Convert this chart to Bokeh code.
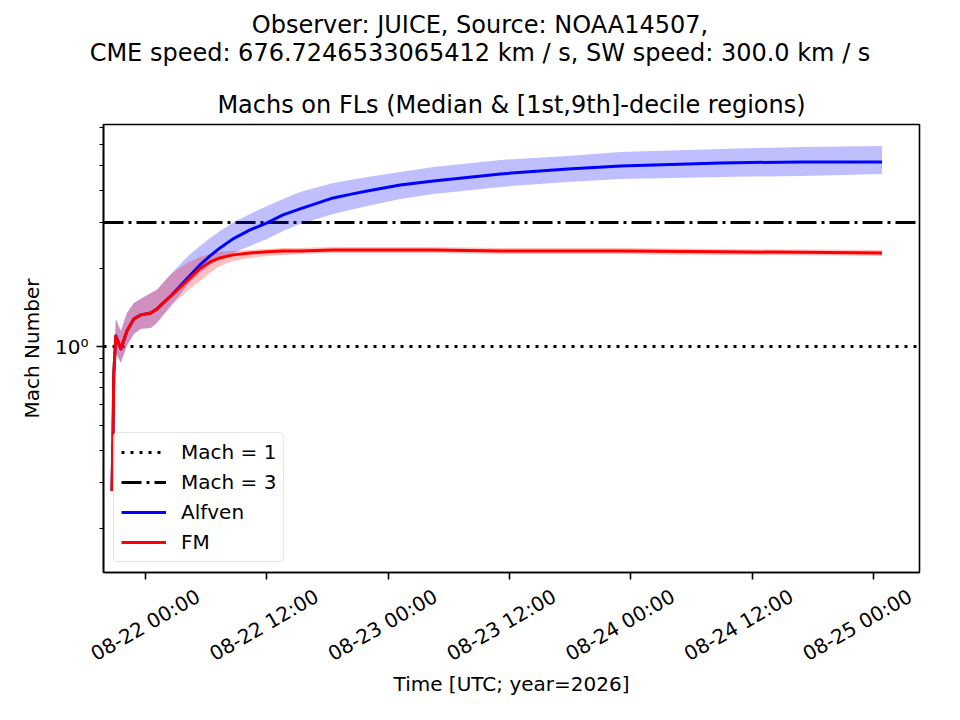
import math

import pandas as pd
from bokeh.plotting import figure
from bokeh.embed import file_html
from bokeh.resources import INLINE
from bokeh.layouts import column
from bokeh.models import (
    ColumnDataSource, FixedTicker, Range1d, DatetimeAxis, Div, AllLabels,
)

FONT = "DejaVu Sans"

# ── Texts ──────────────────────────────────────────────────
suptitle_lines = [
    "Observer: JUICE, Source: NOAA14507,",
    "CME speed: 676.7246533065412 km / s, SW speed: 300.0 km / s",
]
title_text = "Machs on FLs (Median & [1st,9th]-decile regions)"
x_label = "Time [UTC; year=2026]"
y_label = "Mach Number"

# ── Axis ticks ─────────────────────────────────────────────
xtick_times = [
    "2026-08-22 00:00", "2026-08-22 12:00", "2026-08-23 00:00",
    "2026-08-23 12:00", "2026-08-24 00:00", "2026-08-24 12:00",
    "2026-08-25 00:00",
]
xtick_labels = [
    "08-22 00:00", "08-22 12:00", "08-23 00:00", "08-23 12:00",
    "08-24 00:00", "08-24 12:00", "08-25 00:00",
]
ytick_major = [1]
ytick_labels = ["10⁰"]
ytick_minor = [0.2, 0.3, 0.4, 0.5, 0.6, 0.7, 0.8, 0.9, 2, 3, 4, 5, 6, 7]

x_start = "2026-08-21 19:52"
x_end = "2026-08-25 04:32"
y_start = 0.1355
y_end = 7.17

# ── Reference Mach levels ──────────────────────────────────
mach_levels = [1, 3]
mach_labels = ["Mach = 1", "Mach = 3"]

# ── Series (median and 1st / 9th decile) ───────────────────
times = [
    "2026-08-21 20:42", "2026-08-21 20:48", "2026-08-21 20:53", "2026-08-21 21:05",
    "2026-08-21 21:35", "2026-08-21 22:11", "2026-08-21 22:52", "2026-08-21 23:34",
    "2026-08-22 00:33", "2026-08-22 01:09", "2026-08-22 02:32", "2026-08-22 04:07",
    "2026-08-22 05:24", "2026-08-22 06:24", "2026-08-22 07:23", "2026-08-22 08:40",
    "2026-08-22 10:21", "2026-08-22 12:02", "2026-08-22 13:37", "2026-08-22 15:18",
    "2026-08-22 18:34", "2026-08-22 20:15", "2026-08-22 21:56", "2026-08-23 01:12",
    "2026-08-23 04:29", "2026-08-23 11:07", "2026-08-23 17:45", "2026-08-23 22:59",
    "2026-08-24 08:53", "2026-08-24 16:49", "2026-08-25 00:50",
]

alfven_med = [
    0.279, 0.435, 0.787, 1.102, 0.982, 1.152, 1.281, 1.328, 1.351, 1.400,
    1.571, 1.826, 2.067, 2.239, 2.403, 2.603, 2.818, 3.000, 3.219, 3.394,
    3.742, 3.860, 3.981, 4.198, 4.349, 4.628, 4.837, 4.968, 5.103, 5.147,
    5.147,
]
alfven_lo = [
    0.267, 0.398, 0.708, 0.948, 0.868, 1.009, 1.122, 1.173, 1.183, 1.237,
    1.438, 1.717, 1.926, 2.067, 2.180, 2.299, 2.446, 2.603, 2.794, 2.972,
    3.248, 3.365, 3.485, 3.709, 3.877, 4.125, 4.311, 4.427, 4.507, 4.547,
    4.628,
]
alfven_hi = [
    0.292, 0.475, 0.884, 1.281, 1.152, 1.351, 1.476, 1.530, 1.613, 1.657,
    1.909, 2.219, 2.446, 2.626, 2.794, 3.000, 3.248, 3.485, 3.709, 3.947,
    4.273, 4.388, 4.507, 4.710, 4.924, 5.239, 5.428, 5.623, 5.774, 5.878,
    5.931,
]

fm_med = [
    0.279, 0.435, 0.787, 1.102, 0.982, 1.152, 1.281, 1.328, 1.351, 1.400,
    1.571, 1.794, 2.000, 2.123, 2.199, 2.259, 2.299, 2.320, 2.340, 2.340,
    2.361, 2.361, 2.361, 2.361, 2.361, 2.340, 2.340, 2.340, 2.320, 2.310,
    2.299,
]
fm_lo = [
    0.267, 0.398, 0.708, 0.948, 0.868, 1.009, 1.122, 1.173, 1.183, 1.237,
    1.438, 1.642, 1.794, 1.926, 2.049, 2.142, 2.199, 2.239, 2.259, 2.279,
    2.299, 2.299, 2.299, 2.299, 2.299, 2.279, 2.279, 2.279, 2.259, 2.250,
    2.239,
]
fm_hi = [
    0.292, 0.475, 0.884, 1.281, 1.152, 1.351, 1.476, 1.530, 1.613, 1.657,
    1.909, 2.104, 2.219, 2.279, 2.320, 2.340, 2.361, 2.382, 2.403, 2.403,
    2.424, 2.424, 2.424, 2.424, 2.424, 2.403, 2.403, 2.403, 2.382, 2.370,
    2.361,
]

COLORS = {
    "alfven": "#0000ff",
    "fm": "#ff0000",
    "ref": "#000000",
    "legend_border": "#cccccc",
}

FRAME_W = 816
FRAME_H = 448
HEADER_H = 72

src = ColumnDataSource(dict(
    t=pd.to_datetime(times),
    a_med=alfven_med, a_lo=alfven_lo, a_hi=alfven_hi,
    f_med=fm_med, f_lo=fm_lo, f_hi=fm_hi,
))

t0, t1 = pd.Timestamp(x_start), pd.Timestamp(x_end)
tick_ts = [pd.Timestamp(t) for t in xtick_times]
tick_ms = [int(t.timestamp() * 1000) for t in tick_ts]

# Rotated labels are anchored at their right end. A separate range for the
# label axis moves each label's centre back under its tick; the last one is
# pulled in so that the whole label stays inside the frame's width.
label_shift_px = 52.8
last_pull_px = 20
per_px = (t1 - t0) / FRAME_W
p_first = (tick_ts[0] - t0) / per_px + label_shift_px
p_last = (tick_ts[-1] - t0) / per_px + label_shift_px - last_pull_px
lab_per_px = (tick_ts[-1] - tick_ts[0]) / (p_last - p_first)
lab_start = tick_ts[0] - lab_per_px * p_first
lab_end = lab_start + lab_per_px * FRAME_W

p = figure(
    frame_width=FRAME_W,
    frame_height=FRAME_H,
    min_border_left=103,
    min_border_right=33,
    min_border_top=124 - HEADER_H,
    min_border_bottom=20,
    x_axis_type="datetime",
    y_axis_type="log",
    x_range=Range1d(t0, t1),
    y_range=Range1d(y_start, y_end),
    output_backend="svg",
    toolbar_location=None,
    background_fill_color="white",
    border_fill_color="white",
    outline_line_color="black",
    outline_line_width=1.6,
)
p.extra_x_ranges = {"labels": Range1d(lab_start, lab_end)}
p.grid.grid_line_color = None

# ── Title ──
p.title.text = title_text
p.title.align = "center"
p.title.text_font = FONT
p.title.text_font_size = "24px"
p.title.text_font_style = "normal"
p.title.text_color = "black"
p.title.standoff = 12

# ── Reference lines ──
p.hspan(y=[mach_levels[0]], line_color=COLORS["ref"], line_width=3,
        line_dash="3 6", legend_label=mach_labels[0])
p.hspan(y=[mach_levels[1]], line_color=COLORS["ref"], line_width=3,
        line_dash="20 5 3 5", legend_label=mach_labels[1])

# ── Decile bands ──
p.varea("t", "a_lo", "a_hi", source=src, fill_color=COLORS["alfven"], fill_alpha=0.25)
p.varea("t", "f_lo", "f_hi", source=src, fill_color=COLORS["fm"], fill_alpha=0.25)

# ── Medians ──
p.line("t", "a_med", source=src, line_color=COLORS["alfven"], line_width=3,
       line_join="round", legend_label="Alfven")
p.line("t", "f_med", source=src, line_color=COLORS["fm"], line_width=3,
       line_join="round", legend_label="FM")

# ── Axes ──
# tick marks only
p.xaxis.ticker = FixedTicker(ticks=tick_ms, minor_ticks=[])
p.xaxis.major_label_text_color = None
p.xaxis.major_label_standoff = 0

# tick labels and axis title
lab_axis = DatetimeAxis(
    x_range_name="labels",
    ticker=FixedTicker(ticks=tick_ms, minor_ticks=[]),
    major_label_overrides=dict(zip(tick_ms, xtick_labels)),
    major_label_policy=AllLabels(),
    major_label_orientation=math.pi / 6,
    major_label_standoff=15,
    axis_line_color=None,
    major_tick_line_color=None,
    minor_tick_line_color=None,
    major_tick_out=0,
    major_tick_in=0,
    minor_tick_out=0,
    minor_tick_in=0,
    axis_label=x_label,
    axis_label_standoff=-7,
)
p.add_layout(lab_axis, "below")

p.yaxis.ticker = FixedTicker(ticks=ytick_major, minor_ticks=ytick_minor)
p.yaxis.major_label_overrides = dict(zip(ytick_major, ytick_labels))
p.yaxis.major_label_standoff = 8
p.yaxis.axis_label = y_label
p.yaxis.axis_label_standoff = 8

for ax in [p.xaxis[0], p.yaxis[0]]:
    ax.axis_line_color = "black"
    ax.axis_line_width = 1.6
    ax.major_tick_line_color = "black"
    ax.major_tick_line_width = 1.6
    ax.minor_tick_line_color = "black"
    ax.minor_tick_line_width = 1.2
    ax.major_tick_in = 0
    ax.major_tick_out = 7
    ax.minor_tick_in = 0
    ax.minor_tick_out = 4

for ax in [lab_axis, p.yaxis[0]]:
    ax.major_label_text_font = FONT
    ax.major_label_text_font_size = "20px"
    ax.major_label_text_color = "black"
    ax.axis_label_text_font = FONT
    ax.axis_label_text_font_size = "20px"
    ax.axis_label_text_font_style = "normal"
    ax.axis_label_text_color = "black"

# ── Legend ──
p.legend.location = "bottom_left"
p.legend.margin = 10
p.legend.padding = 7
p.legend.spacing = 6
p.legend.glyph_width = 45
p.legend.glyph_height = 20
p.legend.label_height = 20
p.legend.label_standoff = 15
p.legend.label_text_font = FONT
p.legend.label_text_font_size = "20px"
p.legend.label_text_color = "black"
p.legend.background_fill_color = "white"
p.legend.background_fill_alpha = 0.8
p.legend.border_line_color = COLORS["legend_border"]
p.legend.border_line_width = 1.5
p.legend.border_radius = 5

# ── Figure-level title (two centred lines) ──
header = Div(
    text="<br>".join(suptitle_lines),
    width=960,
    height=HEADER_H,
    margin=0,
    styles={
        "font-family": FONT,
        "font-size": "24px",
        "line-height": "28px",
        "text-align": "center",
        "padding-top": "11px",
        "color": "black",
        "box-sizing": "border-box",
    },
)

layout = column(header, p, spacing=0)

open("out.html", "w").write(file_html(layout, INLINE))
